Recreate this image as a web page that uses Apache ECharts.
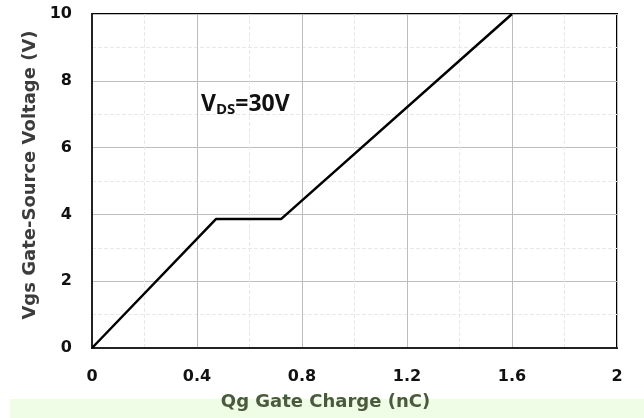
<!DOCTYPE html>
<html><head><meta charset="utf-8">
<script src="https://cdn.jsdelivr.net/npm/echarts@6/dist/echarts.min.js"></script>
<style>html,body{margin:0;padding:0;background:#fff}#c{width:644px;height:418px}</style>
</head><body><div id="c"></div>
<script>
const qg = [0, 0.472, 0.72, 1.6];
const vgs = [0, 3.86, 3.86, 10];
const xTicks = [0, 0.4, 0.8, 1.2, 1.6, 2];
const yTicks = [0, 2, 4, 6, 8, 10];
const xName = 'Qg Gate Charge (nC)';
const yName = 'Vgs Gate-Source Voltage (V)';

const chart = echarts.init(document.getElementById('c'));
const font = 'DejaVu Sans, sans-serif';
chart.setOption({
  animation: false,
  grid: {left: 92, right: 27, top: 14, bottom: 70, show: true, borderColor: '#000', borderWidth: 2},
  graphic: [
    {type: 'rect', z: -10, shape: {x: 10, y: 399, width: 634, height: 19}, style: {fill: '#effde7'}},
    {type: 'text', left: 201, top: 93, style: {
      text: '{v|V}{s|DS}{v|=30V}',
      rich: {
        v: {fontSize: 23, fontWeight: 'bold', fontFamily: 'Open Sans, sans-serif', fill: '#111'},
        s: {fontSize: 15, fontWeight: 'bold', fontFamily: 'Open Sans, sans-serif', fill: '#111', padding: [11, 0, 0, 0]}
      }
    }}
  ],
  xAxis: {
    type: 'value', min: xTicks[0], max: xTicks[xTicks.length - 1], interval: 0.4,
    name: xName, nameLocation: 'middle', nameGap: 45,
    nameTextStyle: {fontSize: 18, fontWeight: 'bold', fontFamily: font, color: '#4a5a3c', padding: [0, 58, 0, 0]},
    axisLine: {lineStyle: {color: '#222', width: 2}},
    axisTick: {show: false},
    axisLabel: {margin: 21, fontSize: 16, fontWeight: 'bold', fontFamily: font, color: '#111',
      formatter: v => String(v)},
    splitLine: {show: true, lineStyle: {color: '#bdbdbd', width: 1}},
    minorTick: {show: false, splitNumber: 2},
    minorSplitLine: {show: true, lineStyle: {color: '#e8e8e8', type: 'dashed', width: 1}}
  },
  yAxis: {
    type: 'value', min: yTicks[0], max: yTicks[yTicks.length - 1], interval: 2,
    name: yName, nameLocation: 'middle', nameGap: 52,
    nameTextStyle: {fontSize: 18, fontWeight: 'bold', fontFamily: font, color: '#3c3c3c', padding: [0, 0, 0, 12]},
    axisLine: {show: true, lineStyle: {color: '#222', width: 2}},
    axisTick: {show: false},
    axisLabel: {margin: 20, fontSize: 16, fontWeight: 'bold', fontFamily: font, color: '#111'},
    splitLine: {show: true, lineStyle: {color: '#bdbdbd', width: 1}},
    minorTick: {show: false, splitNumber: 2},
    minorSplitLine: {show: true, lineStyle: {color: '#e8e8e8', type: 'dashed', width: 1}}
  },
  series: [{
    type: 'line', data: qg.map((x, i) => [x, vgs[i]]),
    showSymbol: false, symbol: 'none',
    lineStyle: {color: '#000', width: 2.5}
  }]
});
</script></body></html>
